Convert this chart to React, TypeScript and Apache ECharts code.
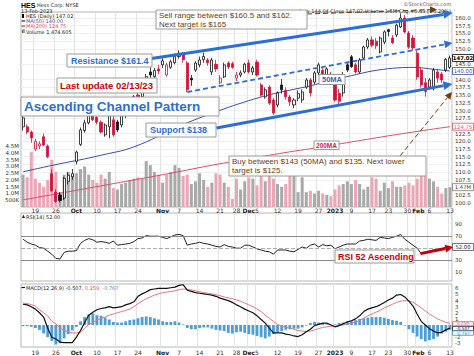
import React, { useEffect, useRef } from "react";
import * as echarts from "echarts";

// ---------------- data ----------------
const HOLIDAYS = ["2022-11-24", "2022-12-26", "2023-01-02", "2023-01-16"];
const START = "2022-09-14";
const END = "2023-02-13";

function tradingDays(start: string, end: string): string[] {
  const out: string[] = [];
  const d = new Date(start + "T00:00:00Z");
  const e = new Date(end + "T00:00:00Z");
  while (d <= e) {
    const wd = d.getUTCDay();
    const s = d.toISOString().slice(0, 10);
    if (wd !== 0 && wd !== 6 && HOLIDAYS.indexOf(s) < 0) out.push(s);
    d.setUTCDate(d.getUTCDate() + 1);
  }
  return out;
}
const dates = tradingDays(START, END);

const tickDates = [
  "2022-09-19", "2022-09-26", "2022-10-03", "2022-10-10", "2022-10-17", "2022-10-24",
  "2022-11-01", "2022-11-07", "2022-11-14", "2022-11-21", "2022-11-28", "2022-12-01",
  "2022-12-05", "2022-12-12", "2022-12-19", "2022-12-27", "2023-01-03", "2023-01-09",
  "2023-01-17", "2023-01-23", "2023-01-30", "2023-02-01", "2023-02-06", "2023-02-13",
];
const tickLabels = [
  "19", "26", "Oct", "10", "17", "24", "Nov", "7", "14", "21", "28", "Dec",
  "5", "12", "19", "27", "2023", "9", "17", "23", "30", "Feb", "6", "13",
];
const boldLabels = ["Oct", "Nov", "Dec", "2023", "Feb"];

const opens = [124.7,124.7,123.0,117.5,118.5,121.5,118.5,109.5,103.5,102.6, 101.6,107.0,108.5,113.5,119.0,123.5,126.0,128.5,127.8,126.2, 122.1,124.7,127.0,126.3,125.3,128.5,129.5,131.5,135.0,134.5, 138.0,142.5,141.0,143.5,144.8,141.5,144.0,145.5,147.5,148.0, 145.4,140.5,143.1,144.8,146.5,146.4,142.5,145.0,139.0,140.9, 145.4,145.2,140.5,141.5,142.5,145.4,142.5,145.7,138.3,134.4, 137.6,133.4,131.8,138.3,136.5,134.4,131.8,134.0,133.4,137.6, 139.9,139.2,142.2,143.0,141.5,141.0,138.3,135.5,135.7,144.8, 147.4,144.8,142.5,147.0,150.6,152.9,152.5,149.0,152.2,156.2, 153.5,154.5,157.1,160.0,155.1,153.5,148.6,143.1,139.0,137.6, 137.3,142.5,141.8,143.1,144.04];
const highs = [128.5,125.5,123.5,120.8,120.0,122.5,119.0,111.0,104.5,103.5, 108.5,110.0,111.0,117.0,124.5,127.0,129.5,129.5,128.5,126.8, 125.8,131.0,129.0,127.0,129.0,131.0,133.0,135.0,136.5,138.0, 141.8,144.0,143.8,144.8,147.0,145.5,146.5,148.5,149.5,149.0, 146.0,141.5,146.0,147.5,148.8,147.0,147.0,146.5,141.5,145.5, 146.0,145.8,142.5,143.0,145.5,146.5,144.5,146.5,139.0,137.5, 138.2,134.0,136.2,140.2,137.5,135.0,134.0,136.5,136.8,140.5, 140.5,142.8,145.5,144.0,144.0,142.5,139.5,137.0,142.5,145.5, 148.0,145.5,147.0,151.0,153.5,154.0,153.5,154.0,156.0,156.5, 154.5,158.2,161.5,161.0,155.8,154.5,149.5,144.0,140.5,140.5, 143.8,143.5,142.5,147.0,147.8];
const lows = [123.5,122.3,119.5,116.8,117.5,118.5,114.5,103.5,100.0,100.2, 101.0,106.0,107.5,112.5,118.5,122.8,125.5,126.5,125.5,122.5, 121.5,121.0,121.5,123.0,124.5,127.5,129.0,130.5,132.8,134.0, 137.5,140.5,140.5,141.8,143.8,141.0,143.5,145.0,146.8,145.5, 136.0,138.0,142.5,144.0,145.5,144.5,141.5,142.5,138.5,140.5, 143.5,143.5,139.5,140.8,142.0,142.0,141.5,141.0,134.5,133.8, 131.8,128.5,131.0,135.5,133.5,131.5,130.8,133.0,132.5,137.0, 134.5,138.5,141.5,141.0,141.0,140.0,132.8,132.0,134.5,142.5, 143.8,142.0,142.0,146.5,150.0,150.5,150.0,148.5,151.5,154.0, 151.5,153.8,156.8,155.0,150.0,149.5,140.0,137.5,134.5,136.8, 136.5,139.0,139.0,142.5,143.5];
const closes = [127.6,123.0,121.1,120.0,119.2,118.8,115.0,104.0,100.5,100.8, 108.0,109.0,109.5,116.5,123.7,126.0,128.5,127.0,126.2,123.0, 125.3,130.2,122.1,123.7,128.5,129.5,131.8,134.5,134.0,137.5, 141.0,141.5,143.0,142.8,146.1,144.8,145.8,147.5,148.5,146.5, 136.7,139.9,145.4,146.4,147.5,145.5,146.4,143.5,140.5,144.8, 144.1,144.0,141.5,142.2,145.0,142.5,143.8,141.5,135.0,136.7, 132.4,129.2,135.7,136.7,134.5,132.8,133.4,135.5,136.0,139.9, 135.7,142.2,144.8,141.5,143.5,141.8,133.4,133.0,141.5,143.1, 144.2,142.5,146.4,150.6,152.9,151.2,151.0,153.5,155.5,155.6, 152.0,157.7,160.0,155.5,150.6,150.3,140.9,138.3,136.2,139.9, 143.1,140.5,139.9,146.59,147.02];
// volume in millions
const volumes = [2.4,2.2,4.1,2.1,1.8,1.5,2.0,3.5,2.6,1.1, 2.4,2.6,2.4,2.5,2.8,3.0,2.4,2.0,1.8,2.4, 2.1,2.6,1.4,1.3,1.7,1.8,2.0,2.1,2.2,2.1, 3.4,3.1,2.6,2.4,1.8,2.4,2.6,3.1,2.9,2.3, 2.4,1.7,1.9,2.5,2.0,1.5,1.8,2.5,2.4,1.8, 1.5,0.6,2.1,1.3,1.9,2.2,2.1,1.6,2.3,1.9, 2.6,2.1,1.7,1.5,1.7,2.5,3.0,1.1,2.2,1.1, 1.2,1.0,1.2,1.0,0.9,0.8,1.3,1.6,1.7,1.9, 1.7,2.0,1.7,1.3,1.5,2.2,2.1,1.2,1.8,1.4, 1.9,1.5,1.5,1.6,1.8,1.6,2.1,2.3,2.3,2.1, 1.9,1.5,1.0,1.4,1.47];

const maIdx = [0,5,10,15,20,25,30,35,40,45,50,55,60,65,70,75,80,85,90,95,100,104];
const ma50Val = [110.1,111.6,113.0,114.3,115.8,117.3,119.8,123.0,126.0,128.6,131.0,133.2,135.1,136.6,138.0,139.8,141.3,142.8,143.7,144.0,143.4,142.8];
const ma200Val = [101.0,102.2,103.4,104.6,105.8,107.0,108.2,109.4,110.7,112.0,113.2,114.4,115.5,116.6,117.6,118.7,119.8,120.9,122.0,123.0,124.0,124.75];

const rsi = [65,60,57,55,51,50,45,40,33,32, 43,45,45,46,58,63,66,64,60,61, 60,58,62,55,56,57,58,61,66,67, 71,70,70,70,68,66,69,72,73,71, 55,57,58,60,58,57,55,53,52,56, 53,52,50,50,55,55,52,49,47,45, 44,40,47,47,47,45,44,48,52,50, 55,57,52,56,54,55,49,52,55,57, 57,57,62,63,65,64,63,68,67,66, 68,70,73,65,60,55,50,41,43,45, 47,48,49,51,52];
const macd = [3.4,3.3,3.0,2.6,2.0,1.3,-0.5,-2.0,-2.3,-2.8, -2.9,-2.9,-2.9,-2.0,-0.9,0.4,1.6,2.1,2.5,2.7, 2.8,3.0,2.8,2.9,3.0,3.3,3.5,3.8,4.7,5.1, 5.4,5.8,5.9,6.0,6.0,6.0,6.1,6.2,6.5,6.6, 5.7,5.5,5.3,5.2,5.1,5.0,4.9,4.7,4.4,4.2, 4.0,3.7,3.3,3.0,2.6,2.3,2.0,1.5,0.9,0.3, -0.5,-1.3,-1.3,-1.3,-1.5,-1.6,-1.8,-1.9,-1.6,-1.1, -0.7,-0.1,0.1,0.3,0.3,0.0,-0.3,-0.1,0.2,0.5, 0.7,1.0,1.5,2.2,2.6,2.8,3.0,3.3,3.7,4.1, 4.4,4.9,5.0,4.6,3.9,3.1,1.8,0.6,0.0,-0.6, -1.0,-1.3,-1.2,-0.8,-0.507];
const signal = [3.6,3.5,3.35,3.1,2.5,2.0,1.5,0.6,0.2,-0.5, -0.9,-1.1,-1.3,-1.3,-1.2,-0.5,0.1,0.4,0.8,1.1, 1.3,1.6,1.8,2.0,2.2,2.4,2.6,3.0,3.5,3.9, 4.3,4.6,4.9,5.1,5.3,5.4,5.5,5.6,5.8,5.9, 5.85,5.75,5.6,5.45,5.3,5.2,5.1,4.95,4.8,4.6, 4.45,4.3,4.1,3.9,3.6,3.3,3.0,2.6,2.2,1.6, 1.1,0.6,0.1,-0.2,-0.4,-0.5,-0.7,-0.9,-1.0,-1.1, -1.0,-0.8,-0.6,-0.4,-0.3,-0.2,-0.2,-0.1,0.0,0.2, 0.3,0.5,0.7,1.1,1.5,1.8,2.1,2.4,2.8,3.1, 3.4,3.7,3.9,4.0,3.95,3.7,3.3,2.8,2.3,1.8, 1.4,1.0,0.7,0.45,0.259];
const hist = [-0.2,-0.2,-0.3,-0.5,-0.8,-1.4,-2.0,-2.6,-3.2,-3.0, -2.2,-1.5,-0.9,-0.3,0.6,1.3,1.7,1.9,1.6,1.5, 1.2,0.9,0.5,0.4,0.4,0.6,0.8,0.9,1.1,1.3, 1.4,1.3,1.1,0.9,0.6,0.5,0.5,0.6,0.4,0.1, -0.5,-0.7,-0.7,-0.5,-0.4,-0.4,-0.6,-0.8,-0.9,-1.0, -1.3,-1.4,-1.2,-1.1,-1.3,-1.5,-1.6,-1.8,-2.0,-2.2, -1.9,-1.5,-1.2,-1.0,-0.8,-0.7,-0.6,-0.6,-0.4,-0.1, 0.3,0.5,0.4,0.3,0.1,0.0,0.1,0.3,0.4,0.6, 0.7,0.8,1.0,1.1,1.2,1.3,1.3,1.3,1.2,1.0, 0.8,0.7,0.5,-0.1,-0.7,-1.3,-1.9,-2.3,-2.7,-2.5, -2.3,-1.9,-1.4,-1.1,-0.767];

// tick labels (those hidden behind value markers in the reference are left out)
const priceTicks = [100,102.5,107.5,110,112.5,115,117.5,120,122.5,127.5,130,132.5,135,137.5,140,145,150,152.5,155,157.5,160];
const volTicks = [0.5,1,1.5,2,2.5,3,3.5,4,4.5];
const rsiTicks = [10,30,70,90];
const macdTicks = [-3,-2,1,2,3,4,5,6];

// trend lines in data space: [category index, price]
const trendUpper = [[30.5, 146.7], [104.6, 161.6]];
const trendMid = [[40.0, 136.0], [104.6, 151.9]];
const trendLower = [[47.1, 124.3], [104.6, 138.6]];

const ma50Label = "140.00";
const ma200Label = "124.75";
const volLabel = "1,474,605";

// ---------------- styles ----------------
const FONT = '"DejaVu Sans", Verdana, sans-serif';
const ARIAL = '"Liberation Sans", Arial, sans-serif';
const RED = "#d0143c";
const BLACK = "#111111";
const PINK = "#e9a6b4";
const GRAY = "#a9a9a9";
const BLUE = "#2b6fd4";
const BROWN = "#6e3d0c";
const MA50C = "#3c4ea6";
const MA200C = "#d9506a";

const labelMap: Record<string, string> = {};
tickDates.forEach((d, k) => (labelMap[d] = tickLabels[k]));
const tickSet = new Set(tickDates.map((d) => dates.indexOf(d)));

function xAxis(gi: number, show: boolean, margin: number) {
  return {
    type: "category",
    gridIndex: gi,
    data: dates,
    boundaryGap: true,
    axisLine: { show: false },
    axisTick: { show: false },
    splitLine: { show: true, interval: (i: number) => tickSet.has(i), lineStyle: { color: "#e3e3e3", width: 1 } },
    axisLabel: {
      show,
      interval: (i: number) => tickSet.has(i),
      margin,
      fontSize: 6,
      fontFamily: FONT,
      color: "#333",
      hideOverlap: false,
      formatter: (v: string) => {
        const l = labelMap[v];
        if (!l) return "";
        if (v === "2023-01-30") return `{l|${l}}`;
        if (v === "2023-02-01") return `{f|${l}}`;
        return boldLabels.indexOf(l) >= 0 ? `{b|${l}}` : l;
      },
      rich: {
        b: { fontWeight: "bold", fontSize: 6, fontFamily: FONT, color: "#222" },
        f: { fontWeight: "bold", fontSize: 6, fontFamily: FONT, color: "#222", padding: [0, 0, 0, 2.5] },
        l: { fontSize: 6, fontFamily: FONT, color: "#333", padding: [0, 3, 0, 0] },
      },
    },
  };
}

function yAxis(gi: number, pos: string, min: number, max: number, ticks: number[], fmt: (v: number) => string, split: boolean) {
  return {
    type: "value",
    gridIndex: gi,
    position: pos,
    min,
    max,
    axisLine: { show: false },
    axisTick: { show: false, customValues: ticks },
    splitLine: { show: split, lineStyle: { color: "#f0f0f0", width: 1 } },
    axisLabel: { customValues: ticks, formatter: fmt, fontSize: 5.5, fontFamily: FONT, color: "#333", margin: pos === "right" ? 3 : 2 },
  };
}

function buildOption() {
  const candleData = opens.map((o, i) => {
    const c = closes[i];
    const prev = i > 0 ? closes[i - 1] : c;
    const col = c < prev ? RED : BLACK;
    const fill = c > o ? "#ffffff" : col;
    return {
      value: [o, c, lows[i], highs[i]],
      itemStyle: { color: fill, color0: fill, borderColor: col, borderColor0: col, borderWidth: 0.8 },
    };
  });
  const volData = volumes.map((v, i) => ({
    value: v,
    itemStyle: { color: i > 0 && closes[i] < closes[i - 1] ? PINK : GRAY },
  }));
  const grid = (top: number, height: number) => ({
    left: 21, right: 22, top, height, show: true, borderColor: "#b5b5b5", borderWidth: 1, backgroundColor: "#ffffff",
  });
  return {
    animation: false,
    backgroundColor: "#ffffff",
    grid: [grid(12, 195), grid(213, 68), grid(284, 63)],
    xAxis: [xAxis(0, true, 0.5), xAxis(1, false, 0), xAxis(2, true, 2)],
    yAxis: [
      yAxis(0, "right", 98.7, 161.95, priceTicks, (v) => v.toFixed(1), true),
      yAxis(0, "left", 0, 14.44, volTicks, (v) => (v < 1 ? Math.round(v * 1000) + "K" : v.toFixed(1) + "M"), false),
      yAxis(1, "right", -4.7, 108.7, rsiTicks, (v) => String(v), false),
      yAxis(2, "right", -3.61, 6.72, macdTicks, (v) => String(v), false),
    ],
    series: [
      { type: "bar", xAxisIndex: 0, yAxisIndex: 1, data: volData, barWidth: 3, z: 1, silent: true },
      {
        type: "line", xAxisIndex: 0, yAxisIndex: 0, z: 2, silent: true, showSymbol: false, smooth: 0.3,
        data: maIdx.map((i, k) => [i, ma200Val[k]]), lineStyle: { color: MA200C, width: 1 },
      },
      {
        type: "line", xAxisIndex: 0, yAxisIndex: 0, z: 2, silent: true, showSymbol: false, smooth: 0.3,
        data: maIdx.map((i, k) => [i, ma50Val[k]]), lineStyle: { color: MA50C, width: 1 },
      },
      { type: "candlestick", xAxisIndex: 0, yAxisIndex: 0, data: candleData, barWidth: 2.6, z: 3, silent: true },
      {
        type: "line", xAxisIndex: 1, yAxisIndex: 2, data: rsi, showSymbol: false, silent: true,
        lineStyle: { color: "#222", width: 1 },
        markLine: {
          silent: true, symbol: "none", label: { show: false },
          data: [
            { yAxis: 70, lineStyle: { color: "#8a8a8a", width: 1, type: "solid" } },
            { yAxis: 30, lineStyle: { color: "#8a8a8a", width: 1, type: "solid" } },
            { yAxis: 50, lineStyle: { color: "#999", width: 0.8, type: [4, 2] } },
          ],
        },
      },
      { type: "bar", xAxisIndex: 2, yAxisIndex: 3, data: hist, barWidth: 2.8, itemStyle: { color: "#4d9ed3" }, silent: true },
      { type: "line", xAxisIndex: 2, yAxisIndex: 3, data: signal, showSymbol: false, silent: true, lineStyle: { color: "#e07783", width: 1 } },
      { type: "line", xAxisIndex: 2, yAxisIndex: 3, data: macd, showSymbol: false, silent: true, lineStyle: { color: "#111", width: 1.2 } },
    ],
  };
}

// ---------------- graphics helpers ----------------
function T(x: number, y: number, text: string, font: string, fill: string, align = "left", z = 60): any {
  return {
    type: "text", x, y, z, silent: true,
    style: { text, font, fill, align, verticalAlign: "middle", textAlign: align, textVerticalAlign: "middle" },
  };
}
function R(x: number, y: number, w: number, h: number, stroke = "#9a9a9a", z = 55, lw = 1): any {
  return { type: "rect", z, silent: true, shape: { x, y, width: w, height: h }, style: { fill: "#ffffff", stroke, lineWidth: lw } };
}
function arrow(p1: number[], p2: number[], color: string, width: number, dashed: boolean, head: number, z = 45): any[] {
  const ang = Math.atan2(p2[1] - p1[1], p2[0] - p1[0]);
  const bx = p2[0] - head * Math.cos(ang);
  const by = p2[1] - head * Math.sin(ang);
  const hw = head * 0.5;
  const l = [bx + hw * Math.sin(ang), by - hw * Math.cos(ang)];
  const r = [bx - hw * Math.sin(ang), by + hw * Math.cos(ang)];
  return [
    { type: "line", z, silent: true, shape: { x1: p1[0], y1: p1[1], x2: bx, y2: by }, style: { stroke: color, lineWidth: width, lineDash: dashed ? [5, 3] : null } },
    { type: "polygon", z, silent: true, shape: { points: [p2, l, r] }, style: { fill: color } },
  ];
}

function buildGraphics(chart: any): any[] {
  const n = dates.length;
  const xA = chart.convertToPixel({ xAxisIndex: 0 }, 0) as number;
  const xB = chart.convertToPixel({ xAxisIndex: 0 }, n - 1) as number;
  const step = (xB - xA) / (n - 1);
  const xAt = (i: number) => xA + i * step;
  const yP = (v: number) => chart.convertToPixel({ yAxisIndex: 0 }, v) as number;
  const yV = (v: number) => chart.convertToPixel({ yAxisIndex: 1 }, v) as number;
  const yR = (v: number) => chart.convertToPixel({ yAxisIndex: 2 }, v) as number;
  const yM = (v: number) => chart.convertToPixel({ yAxisIndex: 3 }, v) as number;
  const g: any[] = [];
  const small = `5px ${FONT}`;

  // header
  g.push(T(21, 5, "HES", `bold 7px ${ARIAL}`, "#000"));
  g.push(T(37, 5, "Hess Corp. NYSE", small, "#222"));
  g.push(T(21, 10.5, "13-Feb-2023", small, "#222"));
  g.push(T(451, 4, "\u00A9StockCharts.com", small, "#555", "right"));
  g.push(T(451, 10.5, `Low 144.04 Close ${closes[n - 1].toFixed(2)} Volume 1.5M Chg +0.43 (+0.29%)`, small, "#222", "right", 20));

  // legends price panel
  g.push({ type: "rect", z: 60, silent: true, shape: { x: 22, y: 14, width: 2, height: 4 }, style: { fill: "#000" } });
  g.push(T(26, 16, `HES (Daily) ${closes[n - 1].toFixed(2)}`, small, "#222"));
  g.push({ type: "line", z: 60, silent: true, shape: { x1: 21.5, y1: 21, x2: 25, y2: 21 }, style: { stroke: MA50C, lineWidth: 1.5 } });
  g.push(T(26, 21, `MA(50) ${ma50Label}`, small, MA50C));
  g.push({ type: "line", z: 60, silent: true, shape: { x1: 21.5, y1: 26, x2: 25, y2: 26 }, style: { stroke: MA200C, lineWidth: 1.5 } });
  g.push(T(26, 26, `MA(200) ${ma200Label}`, small, MA200C));
  g.push({ type: "rect", z: 60, silent: true, shape: { x: 22, y: 30, width: 1, height: 3 }, style: { fill: "#555" } });
  g.push({ type: "rect", z: 60, silent: true, shape: { x: 23.5, y: 29, width: 1, height: 4 }, style: { fill: "#555" } });
  g.push(T(26, 31.5, `Volume ${volLabel}`, small, "#222"));

  // RSI & MACD legends
  g.push({ type: "polygon", z: 60, silent: true, shape: { points: [[22, 218], [23.5, 214.5], [25, 218]] }, style: { fill: "#222" } });
  g.push(T(26, 216.5, `RSI(14) ${rsi[n - 1].toFixed(2)}`, small, "#222"));
  g.push({ type: "line", z: 60, silent: true, shape: { x1: 21.5, y1: 287.5, x2: 25, y2: 287.5 }, style: { stroke: "#111", lineWidth: 1.2 } });
  g.push({
    type: "text", x: 26, y: 287.5, z: 60, silent: true,
    style: {
      text: `{a|MACD(12,26,9) ${macd[n - 1].toFixed(3)},} {b|${signal[n - 1].toFixed(3)},} {c|${hist[n - 1].toFixed(3)}}`,
      font: small, verticalAlign: "middle", textVerticalAlign: "middle",
      rich: {
        a: { fill: "#222", color: "#222", fontSize: 5, fontFamily: FONT },
        b: { fill: "#d9506a", color: "#d9506a", fontSize: 5, fontFamily: FONT },
        c: { fill: "#3b93c9", color: "#3b93c9", fontSize: 5, fontFamily: FONT },
      },
    },
  });

  // trend lines
  const tl = (seg: number[][]) => [[xAt(seg[0][0]), yP(seg[0][1])], [xAt(seg[1][0]), yP(seg[1][1])]];
  const up = tl(trendUpper), mid = tl(trendMid), low = tl(trendLower);
  g.push(...arrow(up[0], up[1], BLUE, 3, false, 9));
  g.push(...arrow(mid[0], mid[1], BLUE, 1.8, true, 8));
  g.push(...arrow(low[0], low[1], BLUE, 3, false, 9));

  // brown annotation arrows
  g.push(...arrow([307, 14], [437, 9.5], BROWN, 1, true, 7));
  g.push(...arrow([400, 156], [452, 92], BROWN, 1, true, 7));

  // boxes
  g.push(R(156, 10, 151, 19));
  g.push(T(159, 15.5, "Sell range between $160.5 and $162.", `8px ${ARIAL}`, BROWN, "left", 56));
  g.push(T(159, 24.5, "Next target is $165", `8px ${ARIAL}`, BROWN, "left", 56));

  g.push(R(67, 54, 85, 13));
  g.push(T(71, 60.5, "Resistance $161.4", `bold 9px ${ARIAL}`, BLUE, "left", 56));

  g.push(R(57, 78, 100, 15));
  g.push(T(60, 85.5, "Last update 02/13/23", `bold 9.5px ${ARIAL}`, "#cc0000", "left", 56));

  g.push(R(21, 97, 198, 19));
  g.push(T(24, 106.5, "Ascending Channel Pattern", `bold 13.5px ${ARIAL}`, "#2f6fc9", "left", 56));

  g.push(R(146, 123, 70, 14));
  g.push(T(150, 130, "Support $138", `bold 9px ${ARIAL}`, BLUE, "left", 56));

  g.push(R(319, 74.5, 26, 10));
  g.push(T(332, 79.5, "50MA", `bold 7.5px ${ARIAL}`, "#3a5cc0", "center", 56));

  g.push(R(314, 141, 25, 8.5));
  g.push(T(326.5, 145.3, "200MA", `bold 6.5px ${ARIAL}`, "#cc1f44", "center", 56));

  g.push(R(229, 156, 197, 20));
  g.push(T(232, 161.5, "Buy between $143 (50MA) and $135. Next lower", `8px ${ARIAL}`, BROWN, "left", 56));
  g.push(T(232, 170.5, "target is $125.", `8px ${ARIAL}`, BROWN, "left", 56));

  // RSI annotation
  g.push(R(335, 250, 79, 13));
  g.push(T(338, 256.5, "RSI 52 Ascending", `bold 9px ${ARIAL}`, "#cc0000", "left", 56));
  g.push(...arrow([xAt(96.8), yR(rsi[97])], [xAt(104.8), yR(rsi[n - 1])], "#c40000", 3, false, 8, 58));

  // right-side value markers
  const marker = (y: number, text: string, stroke: string, fill: string, bold = false, h = 7, fs = 5.3) => {
    g.push({ type: "rect", z: 70, silent: true, shape: { x: 452.5, y: y - h / 2, width: 21, height: h }, style: { fill: "#fff", stroke, lineWidth: 0.8 } });
    g.push(T(463, y, text, `${bold ? "bold " : ""}${fs}px ${FONT}`, fill, "center", 71));
  };
  marker(yP(closes[n - 1]), closes[n - 1].toFixed(2), "#000", "#000", true);
  marker(yP(ma50Val[ma50Val.length - 1]), ma50Label, MA50C, MA50C);
  marker(yP(ma200Val[ma200Val.length - 1]), ma200Label, MA200C, MA200C);
  marker(yV(volumes[n - 1]), volumes[n - 1].toFixed(2) + "M", "#777", "#333");
  marker(yR(rsi[n - 1]), rsi[n - 1].toFixed(2), "#555", "#222");
  const m0 = yM(signal[n - 1]) + 0.5;
  marker(m0, signal[n - 1].toFixed(3), "#d9506a", "#d9506a", false, 4.4, 4.2);
  marker(m0 + 4.6, macd[n - 1].toFixed(3), "#111", "#111", false, 4.4, 4.2);
  marker(m0 + 9.2, hist[n - 1].toFixed(3), "#3b93c9", "#3b93c9", false, 4.4, 4.2);

  return g;
}

export default function App() {
  const ref = useRef<HTMLDivElement>(null);
  useEffect(() => {
    if (!ref.current) return;
    const chart = echarts.init(ref.current, null, { renderer: "svg" });
    chart.setOption(buildOption() as any);
    chart.setOption({ graphic: buildGraphics(chart) } as any);
    return () => chart.dispose();
  }, []);
  return <div ref={ref} style={{ position: "fixed", left: 0, top: 0, width: 474, height: 356 }} />;
}
